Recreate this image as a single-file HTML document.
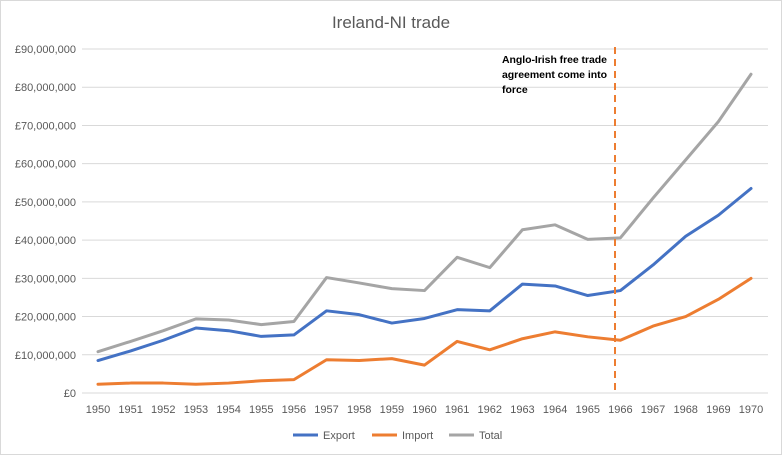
<!DOCTYPE html>
<html><head><meta charset="utf-8"><style>
body{margin:0;background:#fff;}
svg{display:block;font-family:"Liberation Sans",sans-serif;}
</style></head><body>
<svg id="chart" width="782" height="455">
<rect x="0.5" y="0.5" width="781" height="454" fill="#fff" stroke="#d9d9d9"/>
<text x="391" y="28" text-anchor="middle" font-size="17" fill="#595959">Ireland-NI trade</text>
<g id="grid"></g><g id="ylabels"></g><g id="xlabels"></g><g id="series"></g>
<line x1="615" y1="47" x2="615" y2="393" stroke="#ed7d31" stroke-width="2" stroke-dasharray="7,5"/>
<text font-size="10.5" font-weight="bold" fill="#000"><tspan x="502" y="63" textLength="105">Anglo-Irish  free trade</tspan><tspan x="502" y="78" textLength="105">agreement come into</tspan><tspan x="502" y="93">force</tspan></text>
<g>
<line x1="293" y1="435" x2="318" y2="435" stroke="#4472c4" stroke-width="3"/>
<text x="323" y="439" font-size="11" fill="#595959">Export</text>
<line x1="372" y1="435" x2="397" y2="435" stroke="#ed7d31" stroke-width="3"/>
<text x="402" y="439" font-size="11" fill="#595959">Import</text>
<line x1="449" y1="435" x2="474" y2="435" stroke="#a5a5a5" stroke-width="3"/>
<text x="479" y="439" font-size="11" fill="#595959">Total</text>
</g>
</svg>
<script>
const years=[1950,1951,1952,1953,1954,1955,1956,1957,1958,1959,1960,1961,1962,1963,1964,1965,1966,1967,1968,1969,1970];
const exportVals=[8.5,11,13.8,17,16.3,14.8,15.2,21.5,20.5,18.3,19.5,21.8,21.5,28.5,28,25.5,26.8,33.5,41,46.5,53.5];
const importVals=[2.3,2.6,2.6,2.3,2.6,3.2,3.5,8.7,8.5,9,7.3,13.5,11.3,14.2,16,14.7,13.8,17.5,20,24.5,30];
const totalVals=[10.8,13.5,16.3,19.4,19.1,17.9,18.7,30.2,28.8,27.3,26.8,35.5,32.8,42.7,44,40.2,40.6,51,61,71,83.4];
const yTicks=[0,10,20,30,40,50,60,70,80,90];
const yTickLabels=["£0","£10,000,000","£20,000,000","£30,000,000","£40,000,000","£50,000,000","£60,000,000","£70,000,000","£80,000,000","£90,000,000"];
const NS="http://www.w3.org/2000/svg";
const x0=98,x1=751,y0=393,y1=49;
function X(i){return x0+(x1-x0)*i/(years.length-1);}
function Y(v){return y0-(y0-y1)*v/90;}
function mk(t,a,p){const e=document.createElementNS(NS,t);for(const k in a)e.setAttribute(k,a[k]);p.appendChild(e);return e;}
const g=document.getElementById('grid'),yl=document.getElementById('ylabels'),xl=document.getElementById('xlabels'),sg=document.getElementById('series');
yTicks.forEach((v,i)=>{
 const l=mk('line',{x1:82,x2:768,y1:Y(v),y2:Y(v),stroke:'#d9d9d9','stroke-width':1},g);
 
 
 const t=mk('text',{x:76,y:Y(v)+4,'text-anchor':'end','font-size':11,fill:'#595959'},yl);
 t.textContent=yTickLabels[i];
 
 
});
years.forEach((yr,i)=>{
 const t=mk('text',{x:X(i),y:413,'text-anchor':'middle','font-size':11,fill:'#595959'},xl);
 t.textContent=yr;
 
 
});
[[totalVals,'#a5a5a5','total-line'],[exportVals,'#4472c4','export-line'],[importVals,'#ed7d31','import-line']].forEach(s=>{
 const p=mk('polyline',{points:s[0].map((v,i)=>X(i)+','+Y(v)).join(' '),fill:'none',stroke:s[1],'stroke-width':3,'stroke-linejoin':'round','stroke-linecap':'round'},sg);
 
 
});
</script>
</body></html>
